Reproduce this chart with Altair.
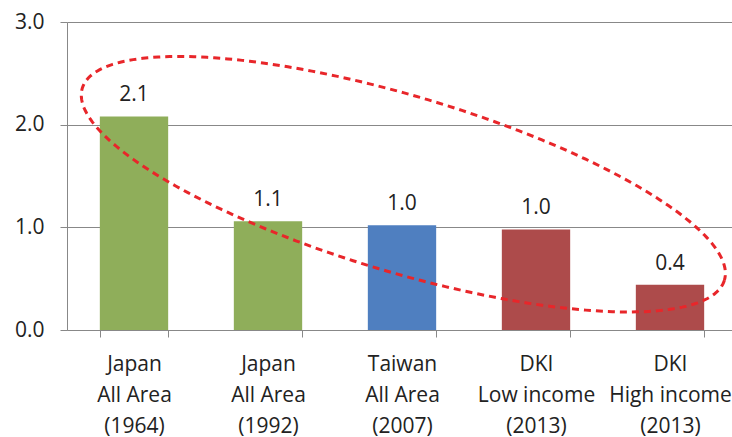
import altair as alt
import numpy as np
import pandas as pd

# Bar categories (line breaks separate the stacked label lines)
categories = [
    "Japan\nAll Area\n(1964)",
    "Japan\nAll Area\n(1992)",
    "Taiwan\nAll Area\n(2007)",
    "DKI\nLow income\n(2013)",
    "DKI\nHigh income\n(2013)",
]
values = [2.08, 1.06, 1.02, 0.98, 0.44]
colors = ["#8fae5a", "#8fae5a", "#4f7fc0", "#ad4b4b", "#ad4b4b"]

bars_df = pd.DataFrame({"cat": categories, "value": values, "color": colors})

# Dashed highlight ellipse, given in data units (x in category slots, y in value units)
ell_center = (2.51, 1.42)
ell_major = (2.396, -0.935)
ell_minor = (-0.188, -0.821)
t = np.linspace(0, 2 * np.pi, 241)
ell_df = pd.DataFrame({
    "ex": ell_center[0] + ell_major[0] * np.cos(t) + ell_minor[0] * np.sin(t),
    "value": ell_center[1] + ell_major[1] * np.cos(t) + ell_minor[1] * np.sin(t),
    "order": np.arange(len(t)),
})

FONT = "Open Sans"
FONT_SIZE = 21
TEXT_COLOR = "#222222"
PLOT_W = 665
PLOT_H = 308
SLOT_RANGE = [0, 670]

y_scale = alt.Scale(domain=[0, 3])
y_axis = alt.Axis(
    title=None,
    values=[0, 1, 2, 3],
    format=".1f",
    labelFont=FONT,
    labelFontSize=FONT_SIZE,
    labelColor=TEXT_COLOR,
    labelPadding=16,
    tickSize=7,
    tickColor="#888888",
    domainColor="#888888",
    gridColor="#888888",
    gridWidth=1,
)

x_enc = alt.X(
    "cat:N",
    sort=categories,
    scale=alt.Scale(range=SLOT_RANGE, paddingInner=0.49, paddingOuter=0.245),
    axis=alt.Axis(
        title=None,
        labelAngle=0,
        labelExpr="split(datum.label, '\\n')",
        labelFont=FONT,
        labelFontSize=FONT_SIZE,
        labelColor=TEXT_COLOR,
        labelLineHeight=31,
        labelPadding=16,
        labelBaseline="top",
        tickBand="extent",
        tickSize=7,
        tickColor="#888888",
        domainColor="#888888",
        grid=False,
    ),
)

bars = alt.Chart(bars_df).mark_bar(opacity=1).encode(
    x=x_enc,
    y=alt.Y("value:Q", scale=y_scale, axis=y_axis),
    color=alt.Color("color:N", scale=None),
)

labels = alt.Chart(bars_df).mark_text(
    font=FONT, fontSize=FONT_SIZE, color=TEXT_COLOR, baseline="bottom", dy=-11
).encode(
    x=alt.X("cat:N", sort=categories),
    y=alt.Y("value:Q", scale=y_scale, axis=y_axis),
    text=alt.Text("value:Q", format=".1f"),
)

base = alt.layer(bars, labels)

ellipse = alt.Chart(ell_df).mark_line(
    color="#e8262a", strokeWidth=3, strokeDash=[7, 5], clip=False
).encode(
    x=alt.X("ex:Q", scale=alt.Scale(domain=[0, 5], range=SLOT_RANGE), axis=None),
    y=alt.Y("value:Q", scale=y_scale, axis=y_axis),
    order="order:Q",
)

chart = (
    alt.layer(base, ellipse)
    .resolve_scale(x="independent")
    .properties(
        width=PLOT_W,
        height=PLOT_H,
        autosize=alt.AutoSizeParams(type="none"),
        padding={"left": 67, "top": 22, "right": 0, "bottom": 107},
        background="white",
    )
    .configure_view(stroke=None)
)

chart.save("out.html", embed_options={"renderer": "svg", "actions": False})
